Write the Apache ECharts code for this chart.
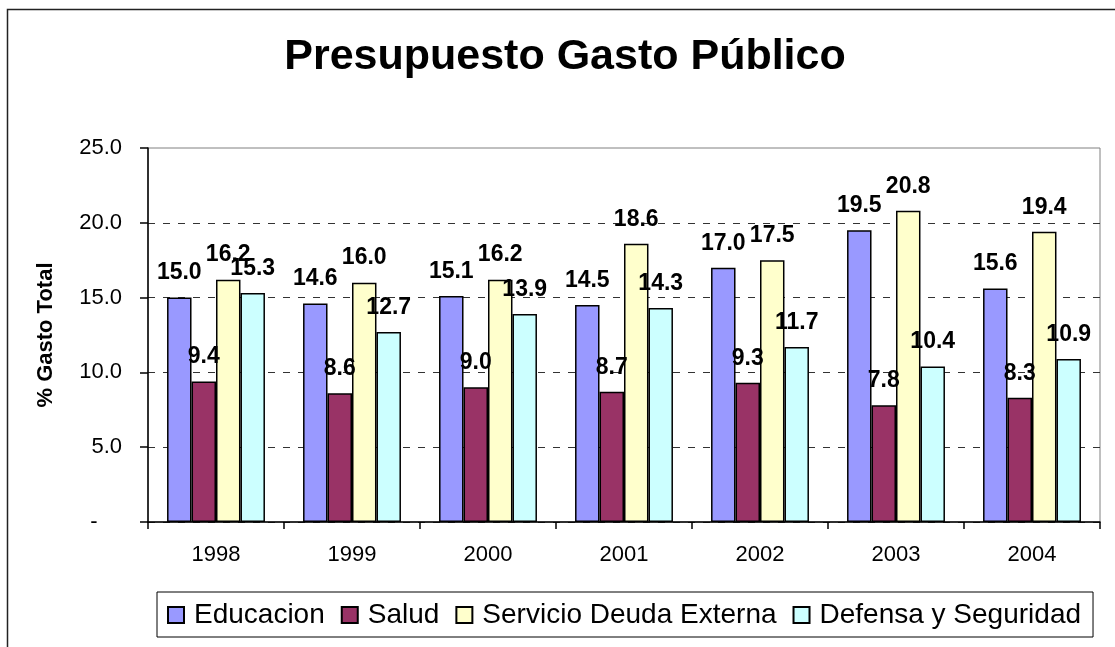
<!DOCTYPE html>
<html>
<head>
<meta charset="utf-8">
<title>Presupuesto Gasto Público</title>
<script src="https://cdn.jsdelivr.net/npm/echarts@6/dist/echarts.min.js"></script>
<style>
  html, body { margin: 0; padding: 0; background: #fff; overflow: hidden; }
  #chart { width: 1115px; height: 647px; }
</style>
</head>
<body>
<div id="chart"></div>
<script>
// datos
const years = ['1998', '1999', '2000', '2001', '2002', '2003', '2004']
const educacion = [15.0, 14.6, 15.1, 14.5, 17.0, 19.5, 15.6]
const salud = [9.4, 8.6, 9.0, 8.7, 9.3, 7.8, 8.3]
const servicioDeuda = [16.2, 16.0, 16.2, 18.6, 17.5, 20.8, 19.4]
const defensa = [15.3, 12.7, 13.9, 14.3, 11.7, 10.4, 10.9]

const seriesNames = ['Educacion', 'Salud', 'Servicio Deuda Externa', 'Defensa y Seguridad']
const seriesColors = ['#9999FF', '#993366', '#FFFFCC', '#CCFFFF']
const seriesData = [educacion, salud, servicioDeuda, defensa]

const FONT = '"Liberation Sans", Arial, sans-serif'

const chart = echarts.init(document.getElementById('chart'), null, { renderer: 'canvas' })

const option = {
  backgroundColor: '#fff',
  animation: false,
  textStyle: { fontFamily: FONT, color: '#000' },
  title: {
    text: 'Presupuesto Gasto Público',
    left: 565,
    textAlign: 'center',
    top: 36,
    padding: 0,
    textStyle: { fontFamily: FONT, fontSize: 43, fontWeight: 'bold', color: '#000' }
  },
  graphic: [{
    type: 'rect',
    silent: true,
    z: -10,
    shape: { x: 7.5, y: 9.5, width: 1200, height: 700 },
    style: { fill: null, stroke: '#222', lineWidth: 1.5 }
  }],
  legend: {
    data: seriesNames,
    left: 157,
    top: 592,
    padding: [9, 12, 8, 10],
    itemWidth: 16,
    itemHeight: 16,
    itemGap: 16,
    icon: 'rect',
    borderColor: '#000',
    borderWidth: 1,
    textStyle: { fontFamily: FONT, fontSize: 28, color: '#000', padding: [0, 0, 0, 5] }
  },
  grid: {
    left: 148,
    right: 15,
    top: 148,
    bottom: 125,
    show: true,
    borderColor: '#808080',
    borderWidth: 1,
    containLabel: false
  },
  xAxis: {
    type: 'category',
    data: years,
    axisLine: { lineStyle: { color: '#000', width: 1.5 } },
    axisTick: { show: true, length: 7, lineStyle: { color: '#000', width: 1.5 } },
    axisLabel: { fontFamily: FONT, fontSize: 22, color: '#000', margin: 22 }
  },
  yAxis: {
    type: 'value',
    min: 0,
    max: 25,
    interval: 5,
    name: '% Gasto Total',
    nameLocation: 'middle',
    nameGap: 91,
    nameTextStyle: { fontFamily: FONT, fontSize: 22, fontWeight: 'bold', color: '#000' },
    axisLine: { show: true, lineStyle: { color: '#000', width: 1.5 } },
    axisTick: { show: true, length: 8, lineStyle: { color: '#000', width: 1.5 } },
    axisLabel: {
      fontFamily: FONT,
      fontSize: 22,
      color: '#000',
      margin: 26,
      formatter: v => (v === 0 ? '-    ' : v.toFixed(1))
    },
    splitLine: {
      show: true,
      showMaxLine: false,
      lineStyle: { color: '#333', width: 1, type: [7, 8] }
    }
  },
  series: seriesNames.map((name, i) => ({
    name: name,
    type: 'bar',
    data: seriesData[i],
    barGap: '0%',
    barCategoryGap: '28%',
    itemStyle: { color: seriesColors[i], borderColor: '#000', borderWidth: 1.5 },
    label: {
      show: true,
      position: 'top',
      distance: 13,
      fontFamily: FONT,
      fontSize: 23,
      fontWeight: 'bold',
      color: '#000',
      formatter: p => p.value.toFixed(1)
    }
  }))
}

chart.setOption(option)
</script>
</body>
</html>
